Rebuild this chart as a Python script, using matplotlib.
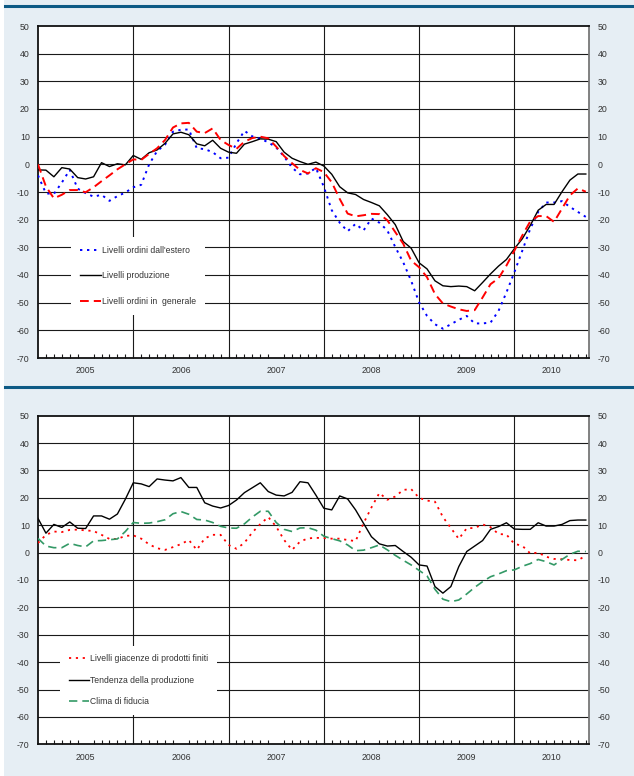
import numpy as np
import matplotlib
matplotlib.use('Agg')
import matplotlib.pyplot as plt
from matplotlib.lines import Line2D
from matplotlib.patches import Rectangle

plt.rcParams['font.family'] = ['Liberation Sans', 'DejaVu Sans']
plt.rcParams['axes.unicode_minus'] = False

# monthly data, Jan 2005 - Oct 2010
years = ['2005', '2006', '2007', '2008', '2009', '2010']

# top panel
ordini_estero = [-4, -10.5, -10.7, -6.6, -2, -8.8, -10.4, -11.7, -11, -13.2,
                 -11.5, -10.2, -8.3, -7.4, 0, 4.8, 7.1, 11.8, 12.5, 12.6,
                 5.8, 5.5, 4.4, 2.2, 2.4, 7.6, 12.1, 10.1, 9.2, 8,
                 6.1, 2.8, -1.2, -3.6, -3.3, -1.3, -8.1, -16.6, -21.1, -24.2,
                 -21.5, -23.9, -19.6, -21.1, -23.9, -29.9, -35.4, -42.1, -49.9, -54.8,
                 -57.8, -59.4, -57.8, -56.2, -54.8, -57.5, -57.5, -57.2, -53, -46.3,
                 -39, -31.2, -23.3, -17.2, -13.8, -13.8, -13.3, -15.4, -17.2, -19]
produzione = [-2, -2.1, -4.5, -1.2, -1.7, -4.8, -5.3, -4.5, 0.6, -0.8,
              0.2, -0.2, 3.2, 1.8, 4.2, 5.2, 7.6, 11, 11.6, 10.7,
              7.4, 6.7, 8.7, 5.8, 4.4, 4, 7.3, 8.2, 9.2, 9.1,
              8.2, 4.4, 2.2, 1, 0, 0.8, -0.6, -3.6, -8.1, -10.3,
              -10.9, -12.7, -13.8, -15, -18.2, -21.8, -27.9, -30.3, -35.6, -37.8,
              -42.1, -43.9, -44.2, -44, -44.2, -45.7, -42.7, -39.6, -36.8, -34.4,
              -30.5, -26.9, -22.1, -16.6, -14.5, -14.5, -9.9, -5.7, -3.5, -3.5]
ordini_generale = [0, -8, -12.3, -11, -9.3, -9.3, -10.1, -8.3, -6.1, -4,
                   -1.8, 0, 1.8, 1.6, 3.8, 5.8, 8.8, 13.3, 14.8, 15,
                   11.8, 11.3, 13, 8.8, 7, 5.6, 8.2, 9.5, 10, 9.4,
                   6.4, 3, 0.4, -2, -3.3, -1.4, -2.8, -6.5, -12.5, -17.8,
                   -18.8, -18.4, -17.9, -18, -20.2, -24.5, -28.7, -34.8, -37.2, -40.8,
                   -46.9, -50.3, -51.4, -52.4, -53, -52.7, -48.1, -43.3, -41.2, -36.6,
                   -31.2, -25.7, -20.6, -18.7, -18.7, -20.8, -16, -11.2, -8.7, -9.9]

# bottom panel
giacenze = [3.5, 6.5, 7.7, 7.5, 8.3, 8.4, 8.1, 7.9, 6.5, 5,
            5, 6.1, 6.3, 5.1, 3, 1.6, 1, 2, 3.1, 4.6,
            1, 5.2, 6.5, 6.5, 2.8, 1.4, 3.6, 7.4, 10.4, 13,
            9.5, 4.6, 1, 4, 5.2, 5.4, 5.3, 5.1, 5.1, 4.6,
            4.2, 10.7, 16.5, 21.8, 19.3, 20.5, 22.9, 23.2, 20, 19,
            18.6, 13, 9, 5, 8.9, 9, 10.3, 9.3, 6.8, 6.6,
            3.2, 2.5, -0.3, 0, -1.5, -2.3, -2.4, -2.7, -2.8, -1.1]
tendenza = [12.5, 7.1, 10.3, 9.2, 11.2, 8.9, 8.8, 13.4, 13.4, 12.2,
            14.1, 19.5, 25.5, 25.1, 24.1, 26.9, 26.5, 26.2, 27.4, 23.8,
            23.8, 18.2, 17, 16.3, 17.2, 19.2, 21.9, 23.7, 25.5, 22.3,
            21, 20.7, 22, 25.9, 25.5, 21, 16.2, 15.6, 20.7, 19.6,
            15.6, 10.7, 5.8, 3.2, 2.4, 2.6, 0.4, -1.7, -4.5, -4.9,
            -12.4, -14.8, -12.4, -5.1, 0.4, 2.4, 4.4, 8.5, 9.5, 10.9,
            8.6, 8.5, 8.5, 10.9, 9.7, 9.7, 10.3, 11.7, 11.9, 11.9]
clima = [5.2, 2.4, 1.8, 1.8, 3.4, 2.6, 2.1, 4.3, 4.4, 4.7,
         5, 7.7, 11, 10.7, 10.8, 11.3, 12, 14.2, 15, 14,
         12.1, 11.9, 11, 9.6, 9, 8.9, 10.5, 13, 15.1, 15.1,
         11, 8.5, 7.7, 9, 9.1, 8.2, 6, 5.1, 4.3, 2.8,
         0.7, 0.9, 1.8, 2.8, 1, -1, -2.8, -4.5, -6.5, -8.5,
         -13.4, -17, -17.9, -17.3, -15.1, -12.7, -10.6, -8.8, -7.8, -6.6,
         -6.3, -5, -4, -2.5, -3.3, -4.5, -2.5, -0.6, 0.5, 0.4]

x = np.arange(len(produzione))
xmax = 69.4
text_col = '#333333'

fig = plt.figure(figsize=(6.34, 7.76), dpi=100)
fig.patch.set_facecolor('white')
fig.add_artist(Rectangle((4 / 634, 0), 1, 1, transform=fig.transFigure,
                         facecolor='#e6eef4', edgecolor='none', zorder=-10))
for yy in [1 - 5.5 / 776, 1 - 386.8 / 776]:
    fig.add_artist(Line2D([5 / 634, 1], [yy, yy], transform=fig.transFigure,
                          color='#0d5a85', lw=2.2))


def style_axis(ax):
    ax.set_facecolor('white')
    ax.set_xlim(0, xmax)
    ax.set_ylim(-70, 50)
    yt = np.arange(-70, 51, 10)
    ax.set_yticks(yt)
    ax.set_yticklabels([str(v) for v in yt])
    ax.tick_params(axis='y', length=0, pad=6, labelsize=6.3, labelcolor=text_col,
                   labelleft=True, labelright=True)
    for v in range(-60, 50, 10):
        ax.axhline(v, color='#1a1a1a', lw=0.8, zorder=1)
    for k in range(12, 61, 12):
        ax.axvline(k, color='#1a1a1a', lw=0.8, zorder=1)
    # year labels centred in each year, monthly ticks inside
    centers = [min(k + 12, xmax) / 2 + k / 2 for k in range(0, 61, 12)]
    ax.set_xticks(centers)
    ax.set_xticklabels(years)
    ax.tick_params(axis='x', which='major', length=0, pad=6, labelsize=6.3,
                   labelcolor=text_col)
    ax.set_xticks(np.arange(1, 70), minor=True)
    ax.tick_params(axis='x', which='minor', direction='in', length=3, width=0.8,
                   color='#1a1a1a')
    for s in ax.spines.values():
        s.set_color('#111111')
        s.set_linewidth(1.3)
    ax.spines['right'].set_color('#777777')


# top panel
ax1 = fig.add_axes([38 / 634, 1 - 358 / 776, 551 / 634, 332 / 776])
style_axis(ax1)
ax1.plot(x, ordini_estero, color='#0000ff', lw=1.4, linestyle=(0, (1.2, 2.4)),
         label="Livelli ordini dall'estero", zorder=3)
ax1.plot(x, produzione, color='black', lw=1.0, label='Livelli produzione', zorder=3)
ax1.plot(x, ordini_generale, color='#ff0000', lw=1.4, linestyle=(0, (4.5, 2.6)),
         label='Livelli ordini in  generale', zorder=3)
leg1 = ax1.legend(loc='upper left', bbox_to_anchor=(0.06, 0.3645), fontsize=6.2,
                  handlelength=2.5, handletextpad=0.1, labelspacing=1.95,
                  borderpad=1.0, borderaxespad=0, fancybox=False, framealpha=1)
leg1.get_frame().set_facecolor('white')
leg1.get_frame().set_edgecolor('none')
for t in leg1.get_texts():
    t.set_color(text_col)

# bottom panel
ax2 = fig.add_axes([38 / 634, 1 - 744.3 / 776, 551 / 634, 328.6 / 776])
style_axis(ax2)
ax2.plot(x, giacenze, color='#ff0000', lw=1.3, linestyle=(0, (1.2, 2.6)),
         label='Livelli giacenze di prodotti finiti', zorder=3)
ax2.plot(x, tendenza, color='black', lw=1.0, label='Tendenza della produzione', zorder=3)
ax2.plot(x, clima, color='#339966', lw=1.2, linestyle=(0, (5, 3)),
         label='Clima di fiducia', zorder=3)
leg2 = ax2.legend(loc='upper left', bbox_to_anchor=(0.04, 0.30), fontsize=6.2,
                  handlelength=2.4, handletextpad=0.1, labelspacing=1.45,
                  borderpad=1.0, borderaxespad=0, fancybox=False, framealpha=1)
leg2.get_frame().set_facecolor('white')
leg2.get_frame().set_edgecolor('none')
for t in leg2.get_texts():
    t.set_color(text_col)

fig.savefig('out.png', dpi=100)
